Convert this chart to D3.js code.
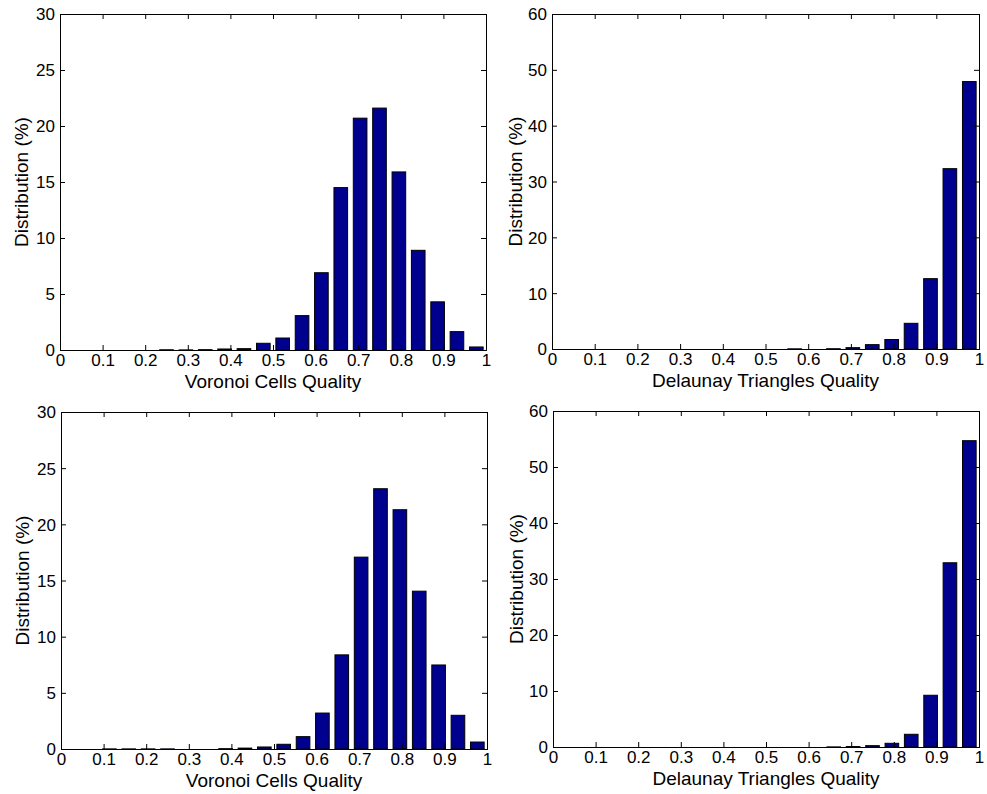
<!DOCTYPE html>
<html>
<head>
<meta charset="utf-8">
<script src="https://cdn.jsdelivr.net/npm/d3@7/dist/d3.min.js"></script>
<style>
  body { margin: 0; background: #fff; }
  svg { display: block; font-family: "Liberation Sans", Arial, sans-serif; }
  .tick line { stroke: #000; }
  .domain { stroke: #000; }
</style>
</head>
<body>
<div class="canvas"></div>
<script>
// bin centres of the 22 histogram bins over [0, 1]
var binCenters = [0.0227, 0.0682, 0.1136, 0.1591, 0.2045, 0.25, 0.2955, 0.3409, 0.3864, 0.4318, 0.4773,
                  0.5227, 0.5682, 0.6136, 0.6591, 0.7045, 0.75, 0.7955, 0.8409, 0.8864, 0.9318, 0.9773]

// distribution (%) per bin
var voronoiTop     = [0, 0, 0, 0, 0, 0.02, 0.01, 0.03, 0.09, 0.12, 0.6, 1.07, 3.07, 6.9, 14.5, 20.7, 21.6, 15.9, 8.9, 4.3, 1.64, 0.27]
var delaunayTop    = [0, 0, 0, 0, 0, 0, 0, 0, 0, 0, 0, 0, 0.03, 0, 0.05, 0.24, 0.78, 1.7, 4.6, 12.6, 32.3, 47.9]
var voronoiBottom  = [0, 0, 0.01, 0.01, 0.01, 0.01, 0, 0, 0.03, 0.08, 0.18, 0.42, 1.1, 3.2, 8.38, 17.08, 23.17, 21.3, 14.05, 7.48, 3.0, 0.62]
var delaunayBottom = [0, 0, 0, 0, 0, 0, 0, 0, 0, 0, 0, 0, 0, 0, 0.02, 0.08, 0.24, 0.66, 2.27, 9.24, 32.9, 54.7]

var xTicks = [0, 0.1, 0.2, 0.3, 0.4, 0.5, 0.6, 0.7, 0.8, 0.9, 1]
var yTicksVoronoi = [0, 5, 10, 15, 20, 25, 30]
var yTicksDelaunay = [0, 10, 20, 30, 40, 50, 60]

var yLabel = "Distribution (%)"
var xLabelVoronoi = "Voronoi Cells Quality"
var xLabelDelaunay = "Delaunay Triangles Quality"

var barColor = "#00008f"
var barWidth = 0.032   // in quality units

var svg = d3.select(".canvas").append("svg")
    .attr("width", 987)
    .attr("height", 794)

function drawPanel(values, yTicks, xLabel, box) {
  var x = d3.scaleLinear().domain([0, 1]).range([0, box.w])
  var y = d3.scaleLinear().domain([yTicks[0], yTicks[yTicks.length - 1]]).range([box.h, 0])

  var g = svg.append("g").attr("transform", "translate(" + box.x + "," + box.y + ")")

  // bars
  g.selectAll("rect.bar")
      .data(values)
      .enter()
      .append("rect")
        .attr("class", "bar")
        .attr("x", function(d, i) { return x(binCenters[i] - barWidth / 2) })
        .attr("y", function(d) { return y(d) })
        .attr("width", function() { return x(barWidth) - x(0) })
        .attr("height", function(d) { return y(0) - y(d) })
        .attr("fill", barColor)
        .attr("stroke", "#000")
        .attr("stroke-width", 1)

  // axes, ticks pointing inward, box on all sides
  var bottom = g.append("g")
      .attr("transform", "translate(0," + box.h + ")")
      .call(d3.axisBottom(x).tickValues(xTicks).tickSize(-5).tickPadding(4)
        .tickFormat(function(d) { return d3.format("")(d) }))
  var top = g.append("g")
      .call(d3.axisTop(x).tickValues(xTicks).tickSize(-5).tickFormat(""))
  var left = g.append("g")
      .call(d3.axisLeft(y).tickValues(yTicks).tickSize(-5).tickPadding(5))
  var right = g.append("g")
      .attr("transform", "translate(" + box.w + ",0)")
      .call(d3.axisRight(y).tickValues(yTicks).tickSize(-5).tickFormat(""))

  ;[bottom, top, left, right].forEach(function(a) {
    a.selectAll("text").attr("font-size", 17).attr("fill", "#000")
      .style("font-family", "'Liberation Sans', Arial, sans-serif")
    a.select(".domain").attr("stroke-width", 1)
  })
  bottom.selectAll("text").attr("dy", "0.71em")
  left.selectAll("text").attr("dy", "0.35em")

  g.append("text")
      .attr("x", box.w / 2)
      .attr("y", box.h + 37.5)
      .attr("text-anchor", "middle")
      .attr("font-size", 19)
      .text(xLabel)

  g.append("text")
      .attr("transform", "translate(" + (box.labelX - box.x) + "," + (box.h / 2) + ") rotate(-90)")
      .attr("text-anchor", "middle")
      .attr("font-size", 19)
      .text(yLabel)
}

drawPanel(voronoiTop, yTicksVoronoi, xLabelVoronoi, {x: 60, y: 14, w: 426, h: 336, labelX: 28})
drawPanel(delaunayTop, yTicksDelaunay, xLabelDelaunay, {x: 552, y: 14, w: 427, h: 335, labelX: 522})
drawPanel(voronoiBottom, yTicksVoronoi, xLabelVoronoi, {x: 61, y: 412, w: 426, h: 337, labelX: 29})
drawPanel(delaunayBottom, yTicksDelaunay, xLabelDelaunay, {x: 553, y: 411, w: 426, h: 336, labelX: 523})
</script>
</body>
</html>
